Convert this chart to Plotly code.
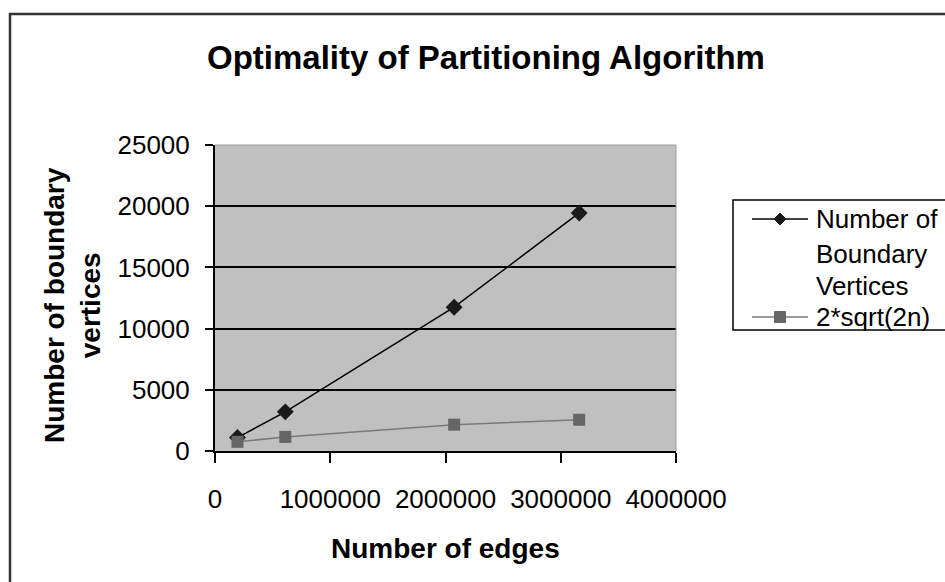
import plotly.graph_objects as go

# Graph sizes (edges) and partition results
edges = [195000, 610000, 2075000, 3160000]
boundary_vertices = [1100, 3200, 11750, 19450]
bound_2sqrt2n = [750, 1150, 2150, 2550]

series_names = ["Number of Boundary Vertices", "2*sqrt(2n)"]
legend_lines = [["Number of", "Boundary", "Vertices"], ["2*sqrt(2n)"]]
y_ticks = [0, 5000, 10000, 15000, 20000, 25000]
x_ticks = [0, 1000000, 2000000, 3000000, 4000000]

FONT = "Liberation Sans, Arial, sans-serif"

W, H = 945, 582
L, R, T, B = 215, 676, 145, 451  # plot area in pixels

COL1_LINE, COL1_MARK = "#000000", "#1a1a1a"
COL2_LINE, COL2_MARK = "#7a7a7a", "#666666"


def px_x(p):
    return (p - L) / (R - L)


def px_y(p):
    return (B - p) / (B - T)


fig = go.Figure()
fig.add_trace(go.Scatter(
    x=edges, y=boundary_vertices, name=series_names[0], mode="lines+markers",
    line=dict(color=COL1_LINE, width=1.5),
    marker=dict(symbol="diamond", size=13, color=COL1_MARK),
))
fig.add_trace(go.Scatter(
    x=edges, y=bound_2sqrt2n, name=series_names[1], mode="lines+markers",
    line=dict(color=COL2_LINE, width=1.5),
    marker=dict(symbol="square", size=12, color=COL2_MARK),
))

annotations = [
    dict(text="<b>Optimality of Partitioning Algorithm</b>", xref="paper", yref="paper",
         x=px_x(486), y=px_y(58), xanchor="center", yanchor="middle",
         showarrow=False, font=dict(family=FONT, size=33, color="black")),
    dict(text="<b>Number of edges</b>", xref="paper", yref="paper",
         x=0.5, y=px_y(548), xanchor="center", yanchor="middle",
         showarrow=False, font=dict(family=FONT, size=28, color="black")),
    dict(text="<b>Number of boundary<br>vertices</b>", xref="paper", yref="paper",
         x=px_x(72), y=px_y(305), xanchor="center", yanchor="middle",
         textangle=-90, showarrow=False,
         font=dict(family=FONT, size=28, color="black")),
]

shapes = [
    # outer chart frame
    dict(type="rect", xref="paper", yref="paper",
         x0=px_x(10), x1=px_x(990), y0=px_y(640), y1=px_y(14),
         line=dict(color="#333333", width=2.5), fillcolor="rgba(0,0,0,0)",
         layer="below"),
    # light border on top and right of plot area
    dict(type="line", xref="paper", yref="paper", x0=0, x1=1, y0=1, y1=1,
         line=dict(color="#999999", width=1)),
    dict(type="line", xref="paper", yref="paper", x0=1, x1=1, y0=0, y1=1,
         line=dict(color="#999999", width=1)),
    # legend box
    dict(type="rect", xref="paper", yref="paper",
         x0=px_x(733), x1=px_x(955), y0=px_y(330), y1=px_y(200),
         line=dict(color="black", width=1.5), fillcolor="white", layer="below"),
]

# legend entries: key line + marker + text
legend_rows = [219, 317]
line_gap = [0, 35, 67]
sym_x0, sym_x1, text_x = 752, 808, 814
styles = [(COL1_LINE, COL1_MARK, "diamond"), (COL2_LINE, COL2_MARK, "square")]
for (lc, mc, sym), row, lines in zip(styles, legend_rows, legend_lines):
    shapes.append(dict(type="line", xref="paper", yref="paper",
                       x0=px_x(sym_x0), x1=px_x(sym_x1), y0=px_y(row), y1=px_y(row),
                       line=dict(color=lc, width=1.5)))
    cx = (sym_x0 + sym_x1) / 2
    if sym == "diamond":
        h = 6
        path = (f"M {px_x(cx - h)} {px_y(row)} L {px_x(cx)} {px_y(row - h)} "
                f"L {px_x(cx + h)} {px_y(row)} L {px_x(cx)} {px_y(row + h)} Z")
        shapes.append(dict(type="path", xref="paper", yref="paper", path=path,
                           fillcolor=mc, line=dict(color=mc, width=1)))
    else:
        h = 5.5
        shapes.append(dict(type="rect", xref="paper", yref="paper",
                           x0=px_x(cx - h), x1=px_x(cx + h),
                           y0=px_y(row + h), y1=px_y(row - h),
                           fillcolor=mc, line=dict(color=mc, width=1)))
    for k, txt in enumerate(lines):
        annotations.append(dict(text=txt, xref="paper", yref="paper",
                                x=px_x(text_x), y=px_y(row + line_gap[k]),
                                xanchor="left", yanchor="middle", showarrow=False,
                                font=dict(family=FONT, size=26, color="black")))

fig.update_layout(
    width=W, height=H,
    margin=dict(l=L, r=W - R, t=T, b=H - B, pad=0),
    paper_bgcolor="white",
    plot_bgcolor="#c0c0c0",
    font=dict(family=FONT, size=26, color="black"),
    showlegend=False,
    xaxis=dict(
        range=[0, 4000000], tickvals=x_ticks, ticktext=[str(v) for v in x_ticks],
        showgrid=False, zeroline=False,
        showline=True, linecolor="black", linewidth=2,
        ticks="outside", ticklen=10, tickwidth=2, tickcolor="black",
        ticklabelstandoff=14,
    ),
    yaxis=dict(
        range=[0, 25000], tickvals=y_ticks, ticktext=[str(v) for v in y_ticks],
        showgrid=True, gridcolor="black", gridwidth=2,
        zeroline=False,
        showline=True, linecolor="black", linewidth=2,
        ticks="outside", ticklen=8, tickwidth=2, tickcolor="black",
        ticklabelstandoff=10,
    ),
    annotations=annotations,
    shapes=shapes,
)

fig.write_html("out.html")
